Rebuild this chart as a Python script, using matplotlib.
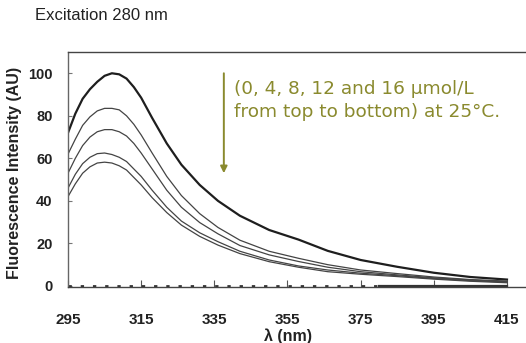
import matplotlib
matplotlib.use('Agg')
import matplotlib.pyplot as plt

# emission spectra, excitation 280 nm
wl = [295, 297, 299, 301, 303, 305, 307, 309, 311, 313, 315, 318, 322, 326,
      331, 336, 342, 350, 358, 366, 375, 385, 395, 405, 415]
c0 = [72, 81, 88, 92.5, 96, 98.8, 100, 99.5, 97.5, 93.5, 88.5, 79, 67, 57,
      47.5, 40, 33, 26.3, 21.8, 16.5, 12.2, 9, 6.2, 4.2, 3]
c4 = [62, 69, 75.5, 79.5, 82.3, 83.5, 83.5, 82.8, 80, 76, 71, 62.5, 51.5, 42.5,
      34, 27.5, 21.5, 16.3, 13, 10, 7.5, 5.8, 4.2, 3, 2.3]
c8 = [53, 60, 66, 70, 72.5, 73.5, 73.5, 72.5, 70.5, 67, 62.5, 55, 45, 37,
      29.8, 24.5, 19, 14.6, 11.5, 8.8, 6.7, 5.2, 3.8, 2.8, 2]
c12 = [46, 52.5, 57.5, 60.5, 62.2, 62.5, 61.8, 60.5, 58.5, 55, 51.5, 45, 37,
       30.5, 25, 20.8, 16.3, 12.2, 9.4, 7.5, 6, 4.8, 3.5, 2.5, 1.8]
c16 = [42, 48, 53, 56, 57.8, 58.2, 57.8, 56.5, 54.5, 51, 47.5, 41.5, 34.5,
       28.6, 23.3, 19.2, 15.2, 11.4, 8.8, 6.7, 5.5, 4.4, 3.2, 2.2, 1.5]
blank_wl = [295, 380, 415]
blank = [0, 0, 0]

xticks = [295, 315, 335, 355, 375, 395, 415]
yticks = [0, 20, 40, 60, 80, 100]

olive = '#8a8a2e'

fig = plt.figure(figsize=(5.26, 3.43), dpi=100)
ax = fig.add_axes([68 / 526, 1 - 287 / 343, 1 - 68 / 526, 235 / 343])

ax.plot(wl, c0, color='#1e1e1e', lw=1.6)
for c in [c4, c8, c12, c16]:
    ax.plot(wl, c, color='#444444', lw=0.9)

ax.plot(blank_wl[:2], blank[:2], color='#333333', lw=2,
        linestyle=(0, (1.2, 3.2)), clip_on=False)
ax.plot(blank_wl[1:], blank[1:], color='#333333', lw=1.6, clip_on=False)

ax.set_xlim(295, 420.2)
ax.set_ylim(-0.5, 110)
ax.set_xticks(xticks)
ax.set_yticks(yticks)
ax.tick_params(axis='x', direction='in', length=5, width=0.8, color='#555555',
               pad=19, labelsize=11)
ax.tick_params(axis='y', direction='in', length=3, width=0.8, color='#777777',
               pad=11, labelsize=10.5)
for lab in ax.get_xticklabels() + ax.get_yticklabels():
    lab.set_fontweight('bold')
    lab.set_fontfamily('Liberation Sans')
    lab.set_color('#222222')

ax.spines['right'].set_visible(False)
ax.spines['left'].set_color('#666666')
ax.spines['bottom'].set_color('#444444')
ax.spines['top'].set_color('#444444')
for s in ['left', 'top', 'bottom']:
    ax.spines[s].set_linewidth(1.0)

fig.text(288 / 526, 1 - 336 / 343, 'λ (nm)', ha='center', va='center',
         fontsize=11.5, fontweight='bold', family=['Liberation Sans', 'DejaVu Sans'],
         color='#222222')
fig.text(15 / 526, 1 - 173 / 343, 'Fluorescence Intensity (AU)', rotation=90,
         ha='center', va='center', fontsize=11.5, fontweight='bold',
         family='Liberation Sans', color='#222222')
fig.text(35 / 526, 1 - 16 / 343, 'Excitation 280 nm', ha='left', va='center',
         fontsize=12, family='Liberation Sans', color='#222222')

ax.annotate('', xy=(337.6, 53), xytext=(337.6, 100),
            arrowprops=dict(arrowstyle='-|>', color=olive, lw=1.4,
                            mutation_scale=10, shrinkA=0, shrinkB=0))
ax.text(340.5, 97, '(0, 4, 8, 12 and 16 μmol/L\nfrom top to bottom) at 25°C.',
        ha='left', va='top', fontsize=13.3, color=olive,
        family='DejaVu Sans', linespacing=1.35)

fig.savefig('out.png', dpi=100)
